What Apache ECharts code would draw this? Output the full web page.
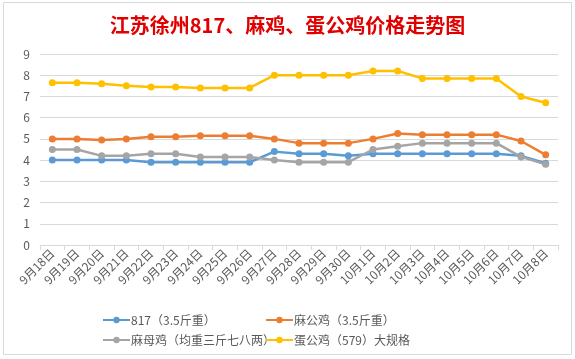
<!DOCTYPE html>
<html><head><meta charset="utf-8">
<script src="https://cdn.jsdelivr.net/npm/echarts@6/dist/echarts.min.js"></script>
<style>html,body{margin:0;padding:0;background:#fff}#c{width:575px;height:359px}</style>
</head><body><div id="c"></div>
<script>
const categories = ['9月18日','9月19日','9月20日','9月21日','9月22日','9月23日','9月24日','9月25日','9月26日','9月27日','9月28日','9月29日','9月30日','10月1日','10月2日','10月3日','10月4日','10月5日','10月6日','10月7日','10月8日'];
const s817 = [4.0,4.0,4.0,4.0,3.9,3.9,3.9,3.9,3.9,4.4,4.3,4.3,4.2,4.3,4.3,4.3,4.3,4.3,4.3,4.2,3.85];
const maGong = [5.0,5.0,4.95,5.0,5.1,5.1,5.15,5.15,5.15,5.0,4.8,4.8,4.8,5.0,5.25,5.2,5.2,5.2,5.2,4.9,4.25];
const maMu = [4.5,4.5,4.2,4.2,4.3,4.3,4.15,4.15,4.15,4.0,3.9,3.9,3.9,4.5,4.65,4.8,4.8,4.8,4.8,4.15,3.8];
const danGong = [7.65,7.65,7.6,7.5,7.45,7.45,7.4,7.4,7.4,8.0,8.0,8.0,8.0,8.2,8.2,7.85,7.85,7.85,7.85,7.0,6.7];
const seriesNames = ['817（3.5斤重）','麻公鸡（3.5斤重）','麻母鸡（均重三斤七八两）','蛋公鸡（579）大规格'];
const colors = ['#5B9BD5','#ED7D31','#A5A5A5','#FFC000'];
const yTicks = [0,1,2,3,4,5,6,7,8,9];

const chart = echarts.init(document.getElementById('c'));
const font = '"Microsoft YaHei","Noto Sans CJK SC",sans-serif';
function mk(name, data, color){
  return {name, type:'line', data, symbol:'circle', symbolSize:7,
    lineStyle:{width:2.5,color}, itemStyle:{color}, emphasis:{disabled:true}};
}
const legText = {color:'#595959', fontSize:12, fontFamily:font, padding:[0,0,0,-4]};
chart.setOption({
  animation:false,
  title:{text:'江苏徐州817、麻鸡、蛋公鸡价格走势图', left:'center', top:10,
    textStyle:{color:'#E00000', fontSize:20, fontWeight:'bold', fontFamily:'"Noto Sans CJK SC",serif'}},
  graphic:[{type:'rect', shape:{x:3.5,y:2.5,width:568,height:352}, style:{fill:'none',stroke:'#d9d9d9',lineWidth:1}, silent:true}],
  grid:{left:40, right:17, top:54, bottom:114, containLabel:false},
  legend:[
    {data:[seriesNames[0],seriesNames[2]], orient:'vertical', left:97, top:309, itemGap:8, itemWidth:27, itemHeight:8,
      textStyle:legText},
    {data:[seriesNames[1],seriesNames[3]], orient:'vertical', left:260, top:309, itemGap:8, itemWidth:27, itemHeight:8,
      textStyle:legText}
  ],
  xAxis:{type:'category', data:categories, boundaryGap:true,
    axisLine:{lineStyle:{color:'#d9d9d9',width:1}},
    axisTick:{show:true, length:5, lineStyle:{color:'#d9d9d9'}},
    axisLabel:{rotate:45, interval:0, color:'#595959', fontSize:12, fontFamily:font, margin:6}},
  yAxis:{type:'value', min:yTicks[0], max:yTicks[yTicks.length-1], interval:1,
    axisLine:{show:false}, axisTick:{show:false},
    splitLine:{lineStyle:{color:'#d9d9d9'}},
    axisLabel:{color:'#595959', fontSize:12, fontFamily:font, margin:10}},
  series:[mk(seriesNames[0],s817,colors[0]), mk(seriesNames[1],maGong,colors[1]), mk(seriesNames[2],maMu,colors[2]), mk(seriesNames[3],danGong,colors[3])]
});
</script></body></html>
